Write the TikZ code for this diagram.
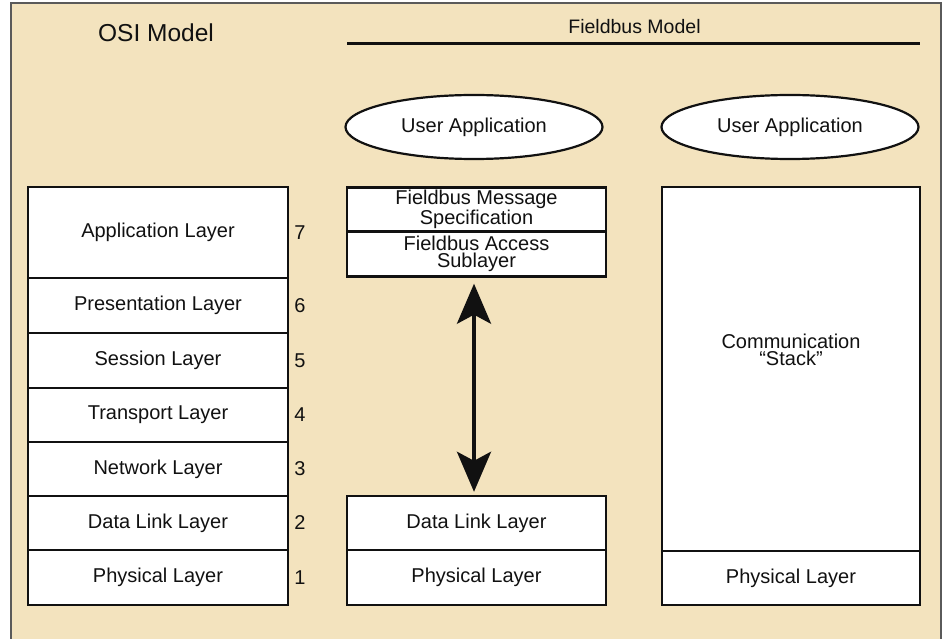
\documentclass[tikz,border=0pt]{standalone}
\usepackage{fontspec}
\setmainfont{Liberation Sans}
\usetikzlibrary{arrows.meta,shapes.geometric}
\definecolor{bgbeige}{HTML}{F3E3BE}
\definecolor{framegray}{HTML}{5A5A5A}
\definecolor{inkblack}{HTML}{111111}
\begin{document}
\begin{tikzpicture}[x=1pt,y=1pt,
  layerbox/.style={rectangle,draw=inkblack,line width=2.4pt,fill=white,inner sep=0pt,
    minimum width=#1,font=\fontsize{20}{17}\selectfont,align=center,text=inkblack},
  layerbox/.default=260,
  numlabel/.style={font=\fontsize{20}{20}\selectfont,text=inkblack,inner sep=0pt},
  userapp/.style={ellipse,draw=inkblack,line width=2.2pt,fill=white,minimum width=257,minimum height=64,
    inner sep=0pt,font=\fontsize{20}{20}\selectfont,text=inkblack},
  bigarrow/.style={line width=4pt,draw=inkblack,{Stealth[length=40pt,width=34pt,inset=9pt]}-{Stealth[length=40pt,width=34pt,inset=9pt]}}
]
\useasboundingbox (0,0) rectangle (945,-639);
\clip (0,0) rectangle (945,-639);
\draw[framegray,line width=1.3pt,fill=bgbeige] (11,-3) rectangle (941,-660);

% titles
\node[font=\fontsize{24.5}{24.5}\selectfont,text=inkblack] (osititle) at (156,-33) {OSI Model};
\node[font=\fontsize{19.5}{19.5}\selectfont,text=inkblack] (fbtitle) at (634.5,-27) {Fieldbus Model};
\coordinate (fbl) at (347,-44);
\coordinate (fbr) at (920,-44);
\draw[inkblack,line width=3pt] (fbl) -- (fbr);

% OSI stack
\node[layerbox,minimum height=91] (app) at (158,-232.5) {Application Layer};
\node[layerbox,minimum height=55] (pres) at (158,-305.5) {Presentation Layer};
\node[layerbox,minimum height=55] (sess) at (158,-360.5) {Session Layer};
\node[layerbox,minimum height=54] (trans) at (158,-415) {Transport Layer};
\node[layerbox,minimum height=54] (net) at (158,-469) {Network Layer};
\node[layerbox,minimum height=54] (dll) at (158,-523) {Data Link Layer};
\node[layerbox,minimum height=55] (phy) at (158,-577.5) {Physical Layer};

\node[numlabel] (n7) at (300,-232.5) {7};
\node[numlabel] (n6) at (300,-305.5) {6};
\node[numlabel] (n5) at (300,-360.5) {5};
\node[numlabel] (n4) at (300,-415) {4};
\node[numlabel] (n3) at (300,-469) {3};
\node[numlabel] (n2) at (300,-523) {2};
\node[numlabel] (n1) at (300,-577.5) {1};

% Fieldbus middle
\node[userapp] (ua1) at (474,-127) {User Application};
\node[layerbox=259,minimum height=44] (fms) at (476.5,-209.5) {Fieldbus Message\\Specification};
\node[layerbox=259,minimum height=45] (fas) at (476.5,-254) {Fieldbus Access\\Sublayer};
\node[layerbox=259,minimum height=54] (mdl) at (476.5,-523) {Data Link Layer};
\node[layerbox=259,minimum height=55] (mphy) at (476.5,-577.5) {Physical Layer};
\draw[bigarrow,shorten <=6pt,shorten >=3pt] ([xshift=-2.5pt]fas.south) -- ([xshift=-2.5pt]mdl.north);

% Fieldbus right
\node[userapp] (ua2) at (790,-127) {User Application};
\node[layerbox=258,minimum height=364] (stack) at (791,-369) {};
\node[font=\fontsize{20}{17}\selectfont,align=center,text=inkblack,inner sep=0pt] (stacktext) at (791,-350) {Communication\\“Stack”};
\node[layerbox=258,minimum height=54] (rphy) at (791,-578) {Physical Layer};
\end{tikzpicture}
\end{document}
